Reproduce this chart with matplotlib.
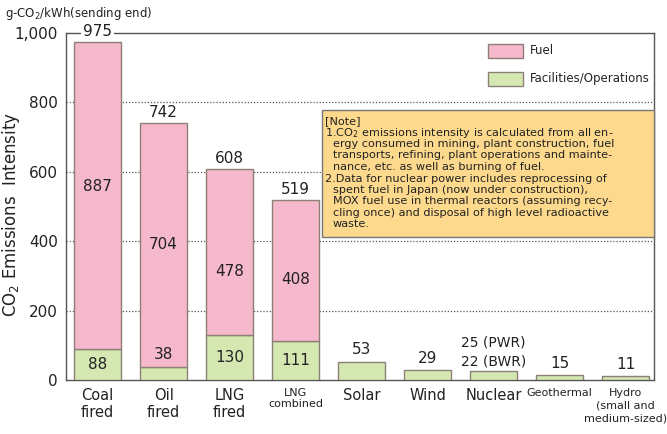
""" CO2 emissions intensity by power source, stacked bars. """

import matplotlib.pyplot as plt
from matplotlib.patches import Rectangle

plt.rcParams['font.family'] = 'DejaVu Sans'

sources = ['Coal\nfired', 'Oil\nfired', 'LNG\nfired', 'LNG\ncombined', 'Solar',
           'Wind', 'Nuclear', 'Geothermal', 'Hydro\n(small and\nmedium-sized)']
fuel = [887, 704, 478, 408, 0, 0, 0, 0, 0]
facilities = [88, 38, 130, 111, 53, 29, 25, 15, 11]
totals = [975, 742, 608, 519]
fac_labels = ['88', '38', '130', '111', '53', '29', '25 (PWR)\n22 (BWR)', '15', '11']
yticks = [0, 200, 400, 600, 800, 1000]
ytick_labels = ['0', '200', '400', '600', '800', '1,000']

PINK = '#f5b8cc'
GREEN = '#d5e8b2'
EDGE = '#8c7f76'
TXT = '#222222'
W, H = 667, 434

fig = plt.figure(figsize=(W / 100, H / 100), dpi=100)
ax = fig.add_axes([66 / W, 54 / H, 588 / W, 347 / H])

x = list(range(len(sources)))
ax.bar(x, facilities, width=0.72, color=GREEN, edgecolor=EDGE, linewidth=1.0, zorder=3)
ax.bar(x[:4], fuel[:4], bottom=facilities[:4], width=0.72, color=PINK,
       edgecolor=EDGE, linewidth=1.0, zorder=3)

ax.set_xlim(-0.48, 8.43)
ax.set_ylim(0, 1000)
ax.set_yticks(yticks, ytick_labels, fontsize=11, color=TXT)
ax.set_xticks(x, sources, fontsize=10.5, color=TXT, linespacing=1.1)
for lab in ax.get_xticklabels():
    if lab.get_text() in ('LNG\ncombined', 'Geothermal'):
        lab.set_fontsize(8)
    if lab.get_text().startswith('Hydro'):
        lab.set_fontsize(8)
        lab.set_linespacing(1.3)
ax.tick_params(length=0, pad=6)
for yy in yticks[1:-1]:
    ax.axhline(yy, color='#555555', linestyle=(0, (1, 1.5)), linewidth=0.9, zorder=1)
for side in ax.spines:
    ax.spines[side].set_color('#555555')
    ax.spines[side].set_linewidth(1.0)

# Value labels
for i, t in enumerate(totals):
    ax.text(i, t + 8, str(t), ha='center', va='bottom', fontsize=11, color=TXT, zorder=4,
            bbox=dict(facecolor='white', edgecolor='none', pad=1.5) if i == 0 else None)
fuel_offsets = [25, 0, -55, -25]
for i in range(4):
    ax.text(i, facilities[i] + fuel[i] / 2 + fuel_offsets[i], str(fuel[i]), ha='center',
            va='center', fontsize=11, color=TXT, zorder=4)
for i in range(len(sources)):
    if facilities[i] >= 80:
        ax.text(i, facilities[i] / 2, fac_labels[i], ha='center', va='center',
                fontsize=11, color=TXT, zorder=4)
    elif i == 1:
        ax.text(i, facilities[i] + 36, fac_labels[i], ha='center', va='center',
                fontsize=11, color=TXT, zorder=4)
    elif i == 6:
        ax.text(i, facilities[i] + 8, fac_labels[i], ha='center', va='bottom',
                fontsize=10, color=TXT, zorder=4, linespacing=1.5)
    else:
        ax.text(i, facilities[i] + 12, fac_labels[i], ha='center', va='bottom',
                fontsize=11, color=TXT, zorder=4)

ax.set_ylabel('CO$_2$ Emissions  Intensity', fontsize=12, color=TXT)
ax.yaxis.set_label_coords(-0.075, 0.478)
fig.text(5 / W, 1 - 14 / H, 'g-CO$_2$/kWh(sending end)', fontsize=8.5, va='center', color=TXT)

# Legend (no frame)
for yy, col, lab in [(51, PINK, 'Fuel'), (79, GREEN, 'Facilities/Operations')]:
    fig.patches.append(Rectangle((488 / W, 1 - (yy + 7) / H), 35 / W, 14 / H,
                                 transform=fig.transFigure, facecolor=col, edgecolor=EDGE,
                                 linewidth=1.0, zorder=6))
    fig.text(530 / W, 1 - yy / H, lab, fontsize=8.5, va='center', color=TXT, zorder=6)

# Note box
fig.patches.append(Rectangle((322 / W, 1 - 237 / H), 332 / W, 127 / H, transform=fig.transFigure,
                             facecolor='#fcd98c', edgecolor='#777777', linewidth=1.0, zorder=5))
note_lines = [
    ('[Note]', 325),
    ('1.CO$_2$ emissions intensity is calculated from all en-', 325),
    ('ergy consumed in mining, plant construction, fuel', 333),
    ('transports, refining, plant operations and mainte-', 333),
    ('nance, etc. as well as burning of fuel.', 333),
    ('2.Data for nuclear power includes reprocessing of', 325),
    ('spent fuel in Japan (now under construction),', 333),
    ('MOX fuel use in thermal reactors (assuming recy-', 333),
    ('cling once) and disposal of high level radioactive', 333),
    ('waste.', 333),
]
for k, (line, xx) in enumerate(note_lines):
    fig.text(xx / W, 1 - (121 + k * 11.5) / H, line, fontsize=8.1, va='center',
             color=TXT, zorder=6)

fig.savefig('out.png', dpi=100)
